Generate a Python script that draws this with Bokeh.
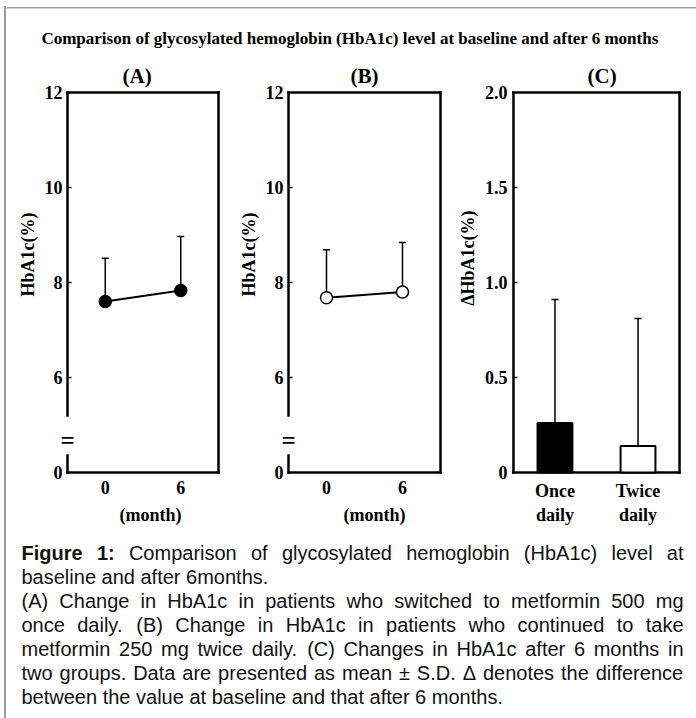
import math
from bokeh.plotting import figure
from bokeh.models import (Range1d, FixedTicker, Label, Whisker, TeeHead, ColumnDataSource,
                          Spacer, Title)
from bokeh.layouts import row, column
from bokeh.embed import file_html
from bokeh.resources import INLINE
from bokeh.core.properties import value

# ---------------- data ----------------
months = [0, 6]
a_mean = [7.60, 7.83]          # (A) once daily
a_sd = [0.91, 1.14]
b_mean = [7.68, 7.80]          # (B) twice daily
b_sd = [1.01, 1.04]
groups = ["Once daily", "Twice daily"]
group_tick_labels = ["Once\ndaily", "Twice\ndaily"]
c_mean = [0.26, 0.14]          # (C) change in HbA1c
c_sd = [0.65, 0.67]
hb_ticks = [4, 6, 8, 10, 12]
hb_tick_labels = ["0", "6", "8", "10", "12"]
d_ticks = [0, 0.5, 1.0, 1.5, 2.0]
d_tick_labels = ["0", "0.5", "1.0", "1.5", "2.0"]

main_title = "Comparison of glycosylated hemoglobin (HbA1c) level at baseline and after 6 months"
panel_titles = ["(A)", "(B)", "(C)"]
hb_axis_title = "HbA1c(%)"
d_axis_title = "\u0394HbA1c(%)"
month_axis_title = "(month)"
caption_head = ["Figure", "1:"]
caption_lines = [
    "Comparison of glycosylated hemoglobin (HbA1c) level at",
    "baseline and after 6months.",
    "(A) Change in HbA1c in patients who switched to metformin 500 mg",
    "once daily. (B) Change in HbA1c in patients who continued to take",
    "metformin 250 mg twice daily. (C) Changes in HbA1c after 6 months in",
    "two groups. Data are presented as mean \u00b1 S.D. \u0394 denotes the difference",
    "between the value at baseline and that after 6 months.",
]
caption_justified = [True, False, True, True, True, True, False]

# ---------------- style / layout ----------------
SERIF = "Liberation Serif"
SANS = "Liberation Sans"
PAD = 3                 # frame padding around the drawn box (px)
PAD_BREAK = 10          # wider left padding where the axis-break sign sits
PANEL_TOP = 55          # page y of the panel row
PANEL_H = 487
BOX_TOP, BOX_BOT = 92, 472        # page y of the drawn boxes
FRAME_TOP, FRAME_BOT = BOX_TOP - PAD, BOX_BOT + PAD
BT, BB = FRAME_TOP - PANEL_TOP, PANEL_TOP + PANEL_H - FRAME_BOT
BRK_LO, BRK_HI = 4.36, 5.2
BOX_LW = 2.5
TICK_LEN = 4            # inner tick length (px)
X0 = 6                  # page x where the main column starts
FULL_W = 696 - X0
GREY = "#9c9c9c"

# Arial / Liberation Sans advance widths (1/1000 em) for caption justification
_W = {" ": 278, "(": 333, ")": 333, ".": 278, ",": 278, ":": 278, "\u00b1": 549, "\u0394": 668,
      "A": 667, "B": 667, "C": 722, "D": 722, "F": 611, "H": 722, "S": 667,
      "a": 556, "b": 556, "c": 500, "d": 556, "e": 556, "f": 278, "g": 556, "h": 556,
      "i": 222, "j": 222, "k": 500, "l": 222, "m": 833, "n": 556, "o": 556, "p": 556,
      "q": 556, "r": 333, "s": 500, "t": 278, "u": 556, "v": 500, "w": 722, "x": 500,
      "y": 500, "z": 500}
_WB = {"F": 611, "i": 278, "g": 611, "u": 611, "r": 389, "e": 556, "1": 556, ":": 333, " ": 278}


def text_width(s, size, bold=False):
    table = _WB if bold else _W
    return sum(table.get(ch, 556) for ch in s) * size / 1000.0


def padded_ranges(lo_x, hi_x, lo_y, hi_y, box_l, box_r, pad_l):
    upx = (hi_x - lo_x) / (box_r - box_l)
    upy = (hi_y - lo_y) / (BOX_BOT - BOX_TOP)
    return (Range1d(lo_x - pad_l * upx, hi_x + PAD * upx),
            Range1d(lo_y - PAD * upy, hi_y + PAD * upy), upx)


def serif_title(text, **kw):
    return Title(text=text, text_font=SERIF, text_font_style="bold",
                 text_color="black", **kw)


def base_fig(page_left, width, frame_l, frame_r, xr, yr, letter, letter_left, ytitle,
             ytitle_top, label_standoff):
    p = figure(width=width, height=PANEL_H, x_range=xr, y_range=yr,
               output_backend="svg", toolbar_location=None,
               min_border_left=frame_l - page_left, min_border_right=page_left + width - frame_r,
               min_border_top=BT, min_border_bottom=BB)
    p.outline_line_color = None
    p.grid.visible = False
    for ax in (p.xaxis[0], p.yaxis[0]):
        ax.axis_line_color = None
        ax.major_tick_line_color = None
        ax.minor_tick_line_color = None
        ax.major_tick_out = 0
        ax.major_tick_in = 0
        ax.minor_tick_out = 0
        ax.major_label_text_font = SERIF
        ax.major_label_text_font_style = "bold"
        ax.major_label_text_font_size = "18px"
        ax.major_label_text_color = "black"
    p.yaxis.major_label_standoff = label_standoff
    p.xaxis.major_label_standoff = 5
    # panel letter as the plot title
    p.title.text = letter
    p.title.align = "left"
    p.title.offset = letter_left - frame_l
    p.title.standoff = 4
    p.title.text_font = SERIF
    p.title.text_font_style = "bold"
    p.title.text_font_size = "21px"
    p.title.text_color = "black"
    # y-axis title, placed at the left and shifted along the axis
    p.add_layout(serif_title(ytitle, align="right", offset=ytitle_top - FRAME_TOP, standoff=8,
                             text_font_size="18px"), "left")
    return p


def inner_ticks(p, x_left, ticks, upx):
    inner = ticks[1:-1]
    p.segment(x0=[x_left] * len(inner), y0=inner, x1=[x_left + TICK_LEN * upx] * len(inner),
              y1=inner, line_color="black", line_width=1.5)


def hb_panel(page_left, width, box_l, box_r, mean, sd, fill, letter, letter_left, xtitle_left):
    x0, x1 = -3, 9
    y0, y1 = hb_ticks[0], hb_ticks[-1]
    xr, yr, upx = padded_ranges(x0, x1, y0, y1, box_l, box_r, PAD_BREAK)
    frame_l, frame_r = box_l - PAD_BREAK, box_r + PAD
    p = base_fig(page_left, width, frame_l, frame_r, xr, yr, letter, letter_left,
                 hb_axis_title, 212, PAD - PAD_BREAK + 2)
    # box with axis break on the left
    p.segment(x0=[x0, x1, x0, x0, x0], y0=[y1, y0, y0, BRK_HI, y0],
              x1=[x1, x1, x1, x0, x0], y1=[y1, y1, y0, y1, BRK_LO],
              line_color="black", line_width=BOX_LW, line_cap="square")
    inner_ticks(p, x0, hb_ticks, upx)
    src = ColumnDataSource(dict(x=months, mean=mean,
                                upper=[m + s for m, s in zip(mean, sd)]))
    p.add_layout(Whisker(source=src, base="x", lower="mean", upper="upper", level="underlay",
                         line_color="black", line_width=1.5, lower_head=None,
                         upper_head=TeeHead(size=7, line_color="black", line_width=1.5)))
    p.line("x", "mean", source=src, line_color="black", line_width=2)
    p.scatter("x", "mean", source=src, size=12, fill_color=fill,
              line_color="black", line_width=1.5)
    p.xaxis.ticker = FixedTicker(ticks=months)
    p.add_layout(serif_title(month_axis_title, align="left", offset=xtitle_left - frame_l,
                             vertical_align="top", standoff=16, text_font_size="18px"), "below")
    p.yaxis.ticker = FixedTicker(ticks=hb_ticks)
    p.yaxis.major_label_overrides = {t: s for t, s in zip(hb_ticks, hb_tick_labels)}
    brk_mid = y0 + (BOX_BOT - 440) * (y1 - y0) / (BOX_BOT - BOX_TOP)
    p.add_layout(Label(x=x0, y=brk_mid, text="=", text_align="center",
                       text_baseline="middle", text_font=SERIF, text_font_style="bold",
                       text_font_size="25px", text_color="black"))
    return p


def delta_panel(page_left, width, box_l, box_r, letter_left):
    xs = [i + 1 for i in range(len(groups))]
    x0, x1 = 0.5, len(groups) + 0.5
    y0, y1 = d_ticks[0], d_ticks[-1]
    xr, yr, upx = padded_ranges(x0, x1, y0, y1, box_l, box_r, PAD)
    p = base_fig(page_left, width, box_l - PAD, box_r + PAD, xr, yr, panel_titles[2],
                 letter_left, d_axis_title, 210, 3)
    p.segment(x0=[x0, x1, x0, x0], y0=[y1, y0, y0, y0],
              x1=[x1, x1, x1, x0], y1=[y1, y1, y0, y1],
              line_color="black", line_width=BOX_LW, line_cap="square")
    inner_ticks(p, x0, d_ticks, upx)
    src = ColumnDataSource(dict(x=xs, mean=c_mean,
                                upper=[m + s for m, s in zip(c_mean, c_sd)],
                                fill=["black", "white"]))
    p.add_layout(Whisker(source=src, base="x", lower="mean", upper="upper", level="underlay",
                         line_color="black", line_width=1.5, lower_head=None,
                         upper_head=TeeHead(size=7, line_color="black", line_width=1.5)))
    p.vbar(x="x", top="mean", bottom=0, width=0.42, source=src, fill_color="fill",
           line_color="black", line_width=2)
    p.xaxis.ticker = FixedTicker(ticks=xs)
    p.xaxis.major_label_overrides = {x: s for x, s in zip(xs, group_tick_labels)}
    p.yaxis.ticker = FixedTicker(ticks=d_ticks)
    p.yaxis.major_label_overrides = {t: s for t, s in zip(d_ticks, d_tick_labels)}
    return p


pa = hb_panel(6, 224, 67, 218, a_mean, a_sd, "black", panel_titles[0], 122, 119)
pb = hb_panel(230, 221, 288, 440, b_mean, b_sd, "white", panel_titles[1], 350, 343)
pc = delta_panel(451, 245, 511, 679, 585)

# ---------------- title strip ----------------
TH = PANEL_TOP
tf = figure(width=FULL_W, height=TH, x_range=Range1d(0, FULL_W), y_range=Range1d(TH, 0),
            x_axis_type=None, y_axis_type=None, output_backend="svg", toolbar_location=None,
            min_border=0)
tf.outline_line_color = None
tf.grid.visible = False
tf.segment(x0=[0], y0=[7.25], x1=[FULL_W], y1=[7.25], line_color=GREY, line_width=1.5)
tf.text(x=[349.5 - X0], y=[38], text=[main_title], text_align="center", text_baseline="middle",
        text_font=value(SERIF), text_font_style="bold", text_font_size="17px",
        text_color="black")

# ---------------- caption ----------------
CAP_TOP = PANEL_TOP + PANEL_H
CH = 718 - CAP_TOP
CAP_SIZE = 20
CAP_L, CAP_R = 21 - X0, 683 - X0
cf = figure(width=FULL_W, height=CH, x_range=Range1d(0, FULL_W), y_range=Range1d(CH, 0),
            x_axis_type=None, y_axis_type=None, output_backend="svg", toolbar_location=None,
            min_border=0)
cf.outline_line_color = None
cf.grid.visible = False

bold_x, bold_y, bold_t = [], [], []
reg_x, reg_y, reg_t = [], [], []
for i, (line, just) in enumerate(zip(caption_lines, caption_justified)):
    ly = 552 - CAP_TOP + 24.15 * i
    if not just:
        reg_x.append(CAP_L); reg_y.append(ly); reg_t.append(line)
        continue
    words = [(w, False) for w in line.split(" ")]
    if i == 0:
        words = [(w, True) for w in caption_head] + words
    widths = [text_width(w, CAP_SIZE, b) for w, b in words]
    gap = (CAP_R - CAP_L - sum(widths)) / (len(words) - 1)
    x = CAP_L
    for (w, b), wd in zip(words, widths):
        if b:
            bold_x.append(x); bold_y.append(ly); bold_t.append(w)
        else:
            reg_x.append(x); reg_y.append(ly); reg_t.append(w)
        x += wd + gap

cf.text(x=bold_x, y=bold_y, text=bold_t, text_align="left", text_baseline="middle",
        text_font=value(SANS), text_font_style="bold", text_font_size=f"{CAP_SIZE}px",
        text_color="#111111")
cf.text(x=reg_x, y=reg_y, text=reg_t, text_align="left", text_baseline="middle",
        text_font=value(SANS), text_font_size=f"{CAP_SIZE}px", text_color="#111111")

# ---------------- page frame rule + layout ----------------
left_pad = Spacer(width=4, height=718)
rule_col = column(Spacer(width=2, height=6),
                  Spacer(width=2, height=712, styles={"background-color": GREY}))
layout = row(left_pad, rule_col, column(tf, row(pa, pb, pc), cf))

open("out.html", "w").write(file_html(layout, INLINE))
